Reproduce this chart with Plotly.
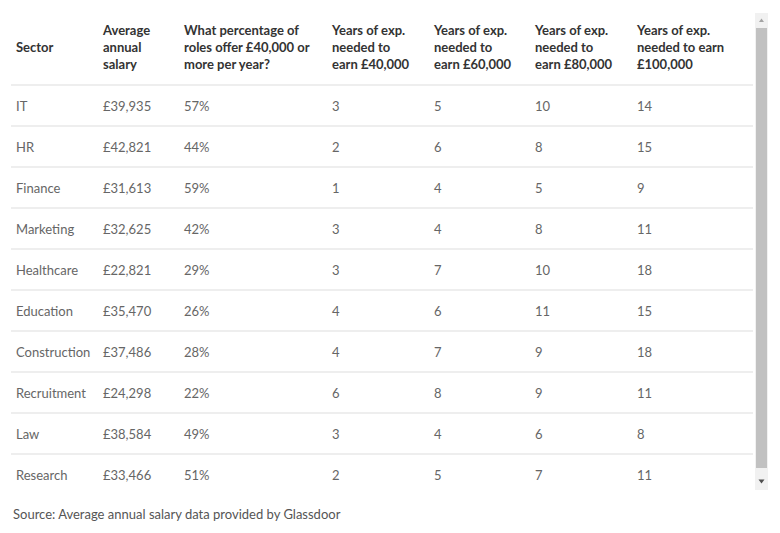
import plotly.graph_objects as go

W, H = 780, 533
OFF = 8  # page body margin in the browser

headers = ["Sector", "Average<br>annual<br>salary", "What percentage of<br>roles offer £40,000 or<br>more per year?",
           "Years of exp.<br>needed to<br>earn £40,000", "Years of exp.<br>needed to<br>earn £60,000",
           "Years of exp.<br>needed to<br>earn £80,000", "Years of exp.<br>needed to earn<br>£100,000"]
sectors = ["IT", "HR", "Finance", "Marketing", "Healthcare", "Education", "Construction", "Recruitment", "Law", "Research"]
salary = [39935, 42821, 31613, 32625, 22821, 35470, 37486, 24298, 38584, 33466]
pct_40k = [57, 44, 59, 42, 29, 26, 28, 22, 49, 51]
years_40k = [3, 2, 1, 3, 3, 4, 4, 6, 3, 2]
years_60k = [5, 6, 4, 4, 7, 6, 7, 8, 4, 5]
years_80k = [10, 8, 5, 8, 10, 11, 9, 9, 6, 7]
years_100k = [14, 15, 9, 11, 18, 15, 18, 11, 8, 11]
source = "Source: Average annual salary data provided by Glassdoor"

FONT = "Lato"
col_w = [87, 81, 148, 102, 101, 102, 124]
tbl_left, tbl_top = 8, 14      # screen px
head_h, row_h = 79, 41
n = len(sectors)
tbl_bottom = tbl_top + head_h + row_h * n
line_shift = 8                 # rule sits above the (top-aligned) cell text


def px(x):
    return (x - OFF) / W


def py(y):
    return 1 - (y - OFF) / H


hdr = ["\u00a0<br>Sector"] + headers[1:]

fig = go.Figure(go.Table(
    columnwidth=col_w,
    domain=dict(x=[px(tbl_left), px(tbl_left + sum(col_w))], y=[py(tbl_bottom + 2), py(tbl_top)]),
    header=dict(values=[f"<b>{h}</b>" for h in hdr], align="left", height=head_h,
                fill_color="white", line_color="white",
                font=dict(family=FONT, size=13, color="#333333")),
    cells=dict(values=[sectors, [f"£{s:,}" for s in salary], [f"{p}%" for p in pct_40k],
                       years_40k, years_60k, years_80k, years_100k],
               align="left", height=row_h, fill_color="white", line_color="white",
               font=dict(family=FONT, size=13, color="#666666")),
))

shapes = []
for i in range(n):
    y = tbl_top + head_h + row_h * i - line_shift
    shapes.append(dict(type="line", xref="paper", yref="paper", x0=px(11), x1=px(753), y0=py(y), y1=py(y),
                       line=dict(color="#dddddd", width=1)))
# scrollbar decoration
shapes.append(dict(type="rect", xref="paper", yref="paper", x0=px(755), x1=px(768), y0=py(490), y1=py(13),
                   fillcolor="#f1f1f1", line_width=0))
shapes.append(dict(type="rect", xref="paper", yref="paper", x0=px(756), x1=px(767), y0=py(468), y1=py(28),
                   fillcolor="#c1c1c1", line_width=0))
shapes.append(dict(type="path", xref="paper", yref="paper",
                   path=f"M {px(759)} {py(22)} L {px(764)} {py(22)} L {px(761.5)} {py(18.5)} Z",
                   fillcolor="#a3a3a3", line_width=0))
shapes.append(dict(type="path", xref="paper", yref="paper",
                   path=f"M {px(758.5)} {py(479.5)} L {px(764.5)} {py(479.5)} L {px(761.5)} {py(483.5)} Z",
                   fillcolor="#505050", line_width=0))

fig.update_layout(
    width=W, height=H, margin=dict(l=0, r=0, t=0, b=0),
    paper_bgcolor="white", plot_bgcolor="white",
    shapes=shapes,
    annotations=[dict(text=source, xref="paper", yref="paper", x=px(11), y=py(514), xanchor="left", yanchor="middle",
                      showarrow=False, font=dict(family=FONT, size=13, color="#555555"))],
)

fig.write_html("out.html")
